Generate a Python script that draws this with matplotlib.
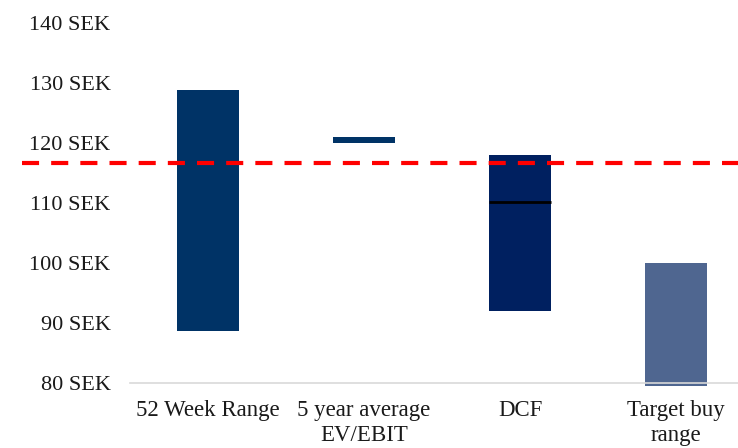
import numpy as np
import matplotlib.pyplot as plt

plt.rcParams['font.family'] = ['Liberation Serif', 'DejaVu Serif']

categories = ['52 Week Range', '5 year average\nEV/EBIT', 'DCF', 'Target buy\nrange']
lows = [88.6, 120.0, 92.0, 79.5]
highs = [128.9, 121.0, 118.0, 100.0]
colors = ['#003366', '#003366', '#002060', '#4F6690']
dcf_mid = 110.1
share_price = 116.6
yticks = [80, 90, 100, 110, 120, 130, 140]

fig = plt.figure(figsize=(7.38, 4.48), dpi=100)
ax = fig.add_axes([130 / 738, 65 / 448, 624 / 738, 360 / 448])

x = np.arange(len(categories))
heights = np.array(highs) - np.array(lows)
ax.bar(x, heights, bottom=lows, width=0.4, color=colors, clip_on=False, zorder=2)

# DCF base case marker
ax.hlines(dcf_mid, x[2] - 0.2, x[2] + 0.2, color='black', linewidth=2, zorder=3)

# current share price, runs out past the axis on the left
ax.hlines(share_price, -1.19, 3.5, color='#FF0000', linewidth=3,
          linestyle=(0, (4.1, 2.9)), zorder=4, clip_on=False)

ax.set_xlim(-0.5, 3.5)
ax.set_ylim(80, 140)
ax.set_yticks(yticks)
ax.set_yticklabels([f'{v} SEK' for v in yticks], fontsize=16, color='#1a1a1a')
ax.set_xticks(x)
ax.set_xticklabels(categories, fontsize=16.5, color='#1a1a1a', linespacing=1.3)
ax.tick_params(axis='both', length=0)
ax.tick_params(axis='y', pad=14)
ax.tick_params(axis='x', pad=12)

for side in ['top', 'right', 'left']:
    ax.spines[side].set_visible(False)
ax.spines['bottom'].set_color('#D9D9D9')
ax.spines['bottom'].set_linewidth(1.2)
ax.spines['bottom'].set_zorder(5)

fig.savefig('out.png', dpi=100)
